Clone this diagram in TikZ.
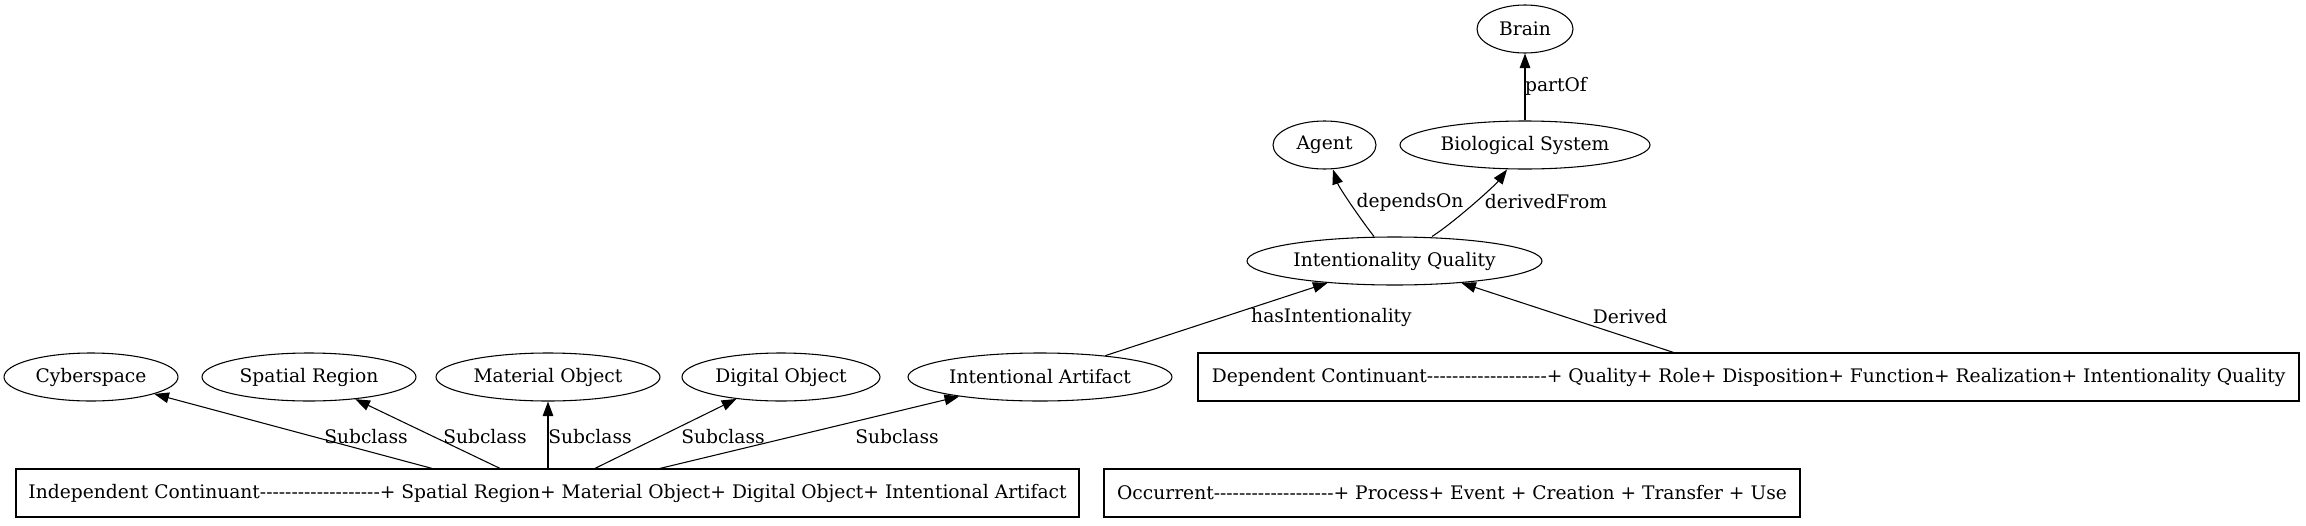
\documentclass[tikz,border=0pt]{standalone}
\usepackage{fontspec}
\setmainfont{DejaVu Serif}[Ligatures=TeXOff]
\usetikzlibrary{arrows.meta,shapes.geometric}
\newcommand{\dashrun}{-------------------}
\begin{document}
\begin{tikzpicture}[x=0.75pt,y=-0.75pt,
  every node/.style={font=\fontsize{14pt}{16pt}\selectfont},
  ell/.style={draw,ellipse,line width=0.8pt,inner sep=0pt,minimum height=36pt},
  rbox/.style={draw,rectangle,line width=0.9pt,inner sep=0pt,minimum height=36pt},
  arr/.style={line width=0.8pt,-{Triangle[length=11pt,width=8pt]}},
  lbl/.style={inner sep=0pt}]
\useasboundingbox (0,0) rectangle (2306,525);
% top part
\node[ell,minimum width=72pt]     (brain) at (1525,29)   {Brain};
\node[ell,minimum width=77.25pt]  (agent) at (1324.5,145) {Agent};
\node[ell,minimum width=187.5pt]  (bio)   at (1525,145)  {Biological System};
\node[ell,minimum width=221.25pt] (iq)    at (1394.5,261) {Intentionality Quality};
% middle row
\node[ell,minimum width=130.5pt]  (cyb)  at (91,377)   {Cyberspace};
\node[ell,minimum width=160.5pt]  (spat) at (309,377)  {Spatial Region};
\node[ell,minimum width=168pt]    (mat)  at (548,377)  {Material Object};
\node[ell,minimum width=148.5pt]  (dig)  at (781,377)  {Digital Object};
\node[ell,minimum width=198pt]    (ia)   at (1040,377) {Intentional Artifact};
\node[rbox,minimum width=825.75pt] (dep) at (1748.5,377)
  {Dependent Continuant\dashrun+ Quality+ Role+ Disposition+ Function+ Realization+ Intentionality Quality};
% bottom row
\node[rbox,minimum width=797.25pt] (ind) at (547.5,493)
  {Independent Continuant\dashrun+ Spatial Region+ Material Object+ Digital Object+ Intentional Artifact};
\node[rbox,minimum width=522pt] (occ) at (1452,493)
  {Occurrent\dashrun+ Process+ Event + Creation + Transfer + Use};
% edges
\draw[arr] (bio) -- (brain);
\draw[arr] ([xshift=-15.375pt]iq.north) .. controls +(-14,-18) and +(6,18) .. ([xshift=6.375pt]agent.south);
\draw[arr] ([xshift=28.125pt]iq.north) .. controls +(22,-14) and +(-12,16) .. ([xshift=-13.5pt]bio.south);
\draw[arr] (ia) -- (iq);
\draw[arr] (dep) -- (iq);
\draw[arr] ([xshift=-86.625pt]ind.north) -- (cyb);
\draw[arr] ([xshift=-35.625pt]ind.north) -- (spat);
\draw[arr] (ind.north -| mat) -- (mat);
\draw[arr] ([xshift=35.625pt]ind.north) -- (dig);
\draw[arr] ([xshift=84.375pt]ind.north) -- (ia);
% labels
\node[lbl] (lpart) at (1556,86)   {partOf};
\node[lbl] (ldep)  at (1410,202)  {dependsOn};
\node[lbl] (lder)  at (1546,202)  {derivedFrom};
\node[lbl] (lhas)  at (1331.5,317) {hasIntentionality};
\node[lbl] (lderv) at (1630,317)  {Derived};
\node[lbl] (ls1) at (366,437) {Subclass};
\node[lbl] (ls2) at (485,437) {Subclass};
\node[lbl] (ls3) at (590,437) {Subclass};
\node[lbl] (ls4) at (723,437) {Subclass};
\node[lbl] (ls5) at (897,437) {Subclass};
\end{tikzpicture}
\end{document}
